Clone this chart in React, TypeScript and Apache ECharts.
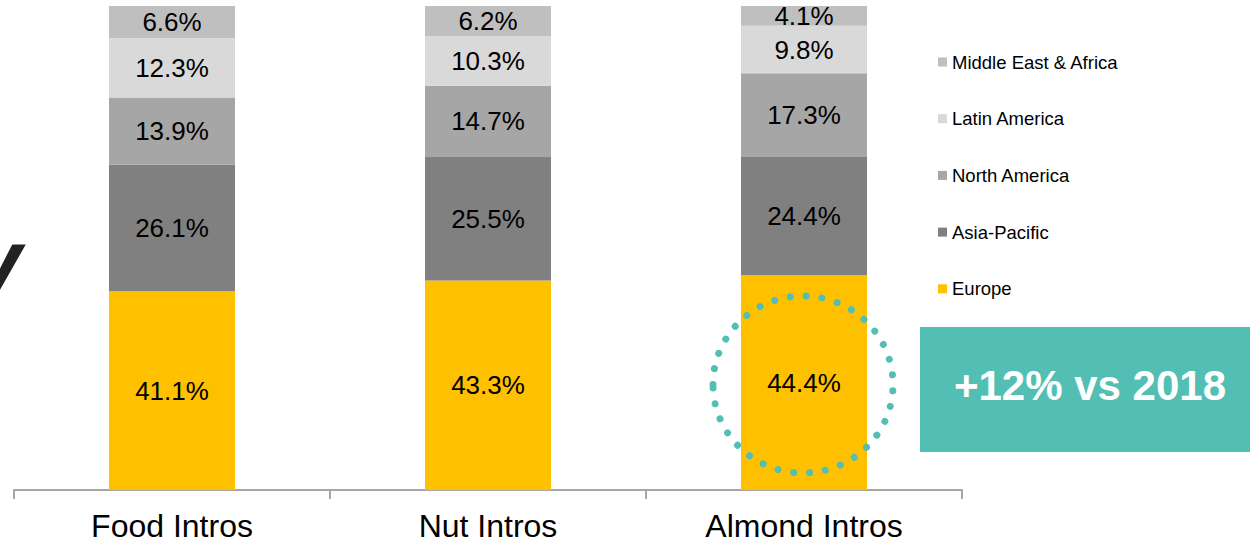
import React, { useEffect, useRef } from "react";
import * as echarts from "echarts";

const categories = ["Food Intros", "Nut Intros", "Almond Intros"];
const europe = [41.1, 43.3, 44.4];
const asiaPacific = [26.1, 25.5, 24.4];
const northAmerica = [13.9, 14.7, 17.3];
const latinAmerica = [12.3, 10.3, 9.8];
const middleEastAfrica = [6.6, 6.2, 4.1];
const legendOrder = ["Middle East & Africa", "Latin America", "North America", "Asia-Pacific", "Europe"];
const calloutText = "+12% vs 2018";

const FONT = "Liberation Sans, Arial, sans-serif";

export default function App() {
  const ref = useRef<HTMLDivElement>(null);
  useEffect(() => {
    if (!ref.current) return;
    const chart = echarts.init(ref.current, undefined, { renderer: "svg" });
    const mk = (name: string, data: number[], color: string) => ({
      name,
      type: "bar",
      stack: "total",
      data,
      barWidth: 126,
      itemStyle: { color },
      label: {
        show: true,
        position: "inside",
        formatter: (p: any) => p.value.toFixed(1) + "%",
        color: "#000",
        fontSize: 26,
        fontFamily: FONT,
      },
    });
    chart.setOption({
      animation: false,
      textStyle: { fontFamily: FONT },
      grid: { left: 14, right: 288, top: 6, bottom: 49, containLabel: false, outerBoundsMode: "none" },
      xAxis: {
        type: "category",
        data: categories,
        axisLine: { lineStyle: { color: "#a6a6a6", width: 2 } },
        axisTick: { show: true, length: 9, lineStyle: { color: "#a6a6a6", width: 2 } },
        axisLabel: { color: "#000", fontSize: 32, lineHeight: 24, fontFamily: FONT, margin: 24 },
      },
      yAxis: {
        type: "value",
        min: 0,
        max: 100,
        show: false,
      },
      legend: {
        orient: "vertical",
        left: 933,
        top: 47,
        data: legendOrder,
        icon: "rect",
        itemWidth: 9,
        itemHeight: 9,
        itemGap: 36.7,
        textStyle: { color: "#000", fontSize: 18.5, lineHeight: 20, fontFamily: FONT },
        selectedMode: false,
      },
      series: [
        mk("Europe", europe, "#FFC000"),
        mk("Asia-Pacific", asiaPacific, "#808080"),
        mk("North America", northAmerica, "#A6A6A6"),
        mk("Latin America", latinAmerica, "#D9D9D9"),
        mk("Middle East & Africa", middleEastAfrica, "#BFBFBF"),
      ],
      graphic: [
        {
          type: "ellipse",
          shape: { cx: 803, cy: 384.5, rx: 90, ry: 88.5 },
          z: 100,
          style: {
            fill: "none",
            stroke: "#53BFB4",
            lineWidth: 7,
            lineCap: "round",
            lineDash: [0.01, 15.9],
          },
        },
        {
          type: "rect",
          shape: { x: 920, y: 327, width: 330, height: 125 },
          style: { fill: "#53BFB4" },
        },
        {
          type: "text",
          x: 1090,
          y: 385,
          style: {
            text: calloutText,
            fill: "#fff",
            fontSize: 42,
            fontWeight: "bold",
            fontFamily: FONT,
            align: "center",
            verticalAlign: "middle",
          },
        },
        {
          type: "text",
          x: 22,
          y: 262,
          style: {
            text: "y",
            fill: "#222",
            fontSize: 92,
            fontWeight: "bold",
            fontStyle: "italic",
            fontFamily: FONT,
            align: "right",
            verticalAlign: "middle",
          },
        },
      ],
    });
    return () => chart.dispose();
  }, []);
  return <div ref={ref} style={{ width: 1250, height: 539, position: "absolute", left: 0, top: 0 }} />;
}
